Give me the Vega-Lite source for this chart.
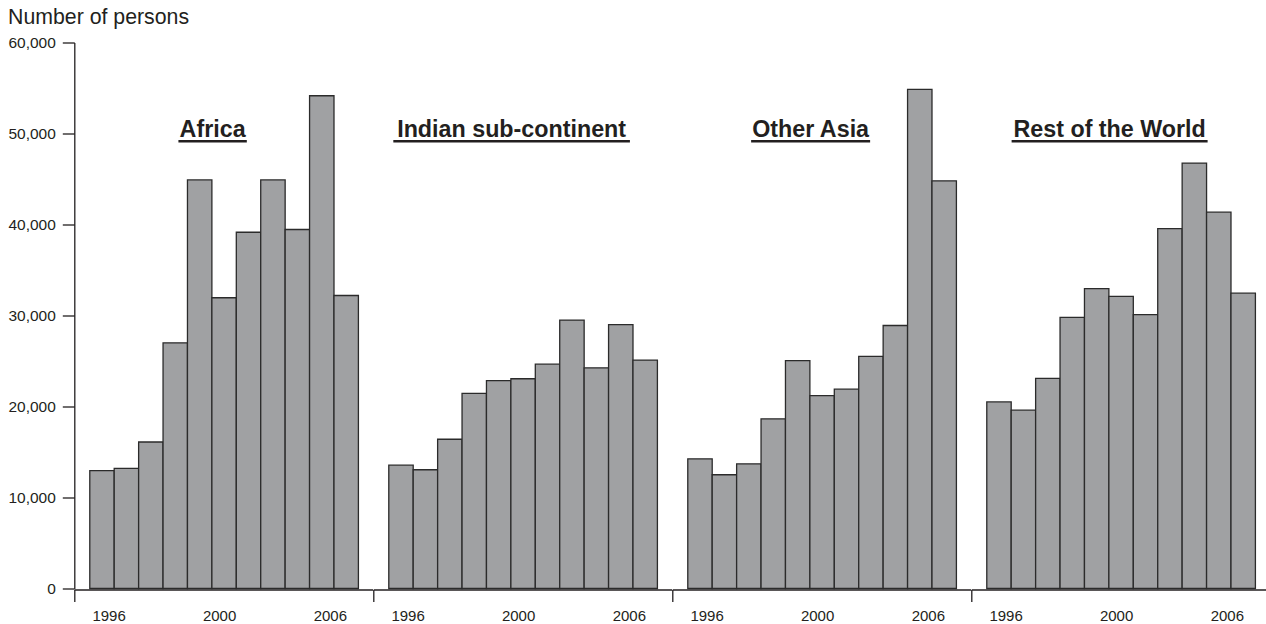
{
  "$schema": "https://vega.github.io/schema/vega-lite/v6.json",
  "padding": {"left": 7.3, "top": 5.5, "right": 0, "bottom": 5},
  "background": "white",
  "data": {"values": [
    {"region": "Africa", "year": 1996, "persons": 12950},
    {"region": "Africa", "year": 1997, "persons": 13200},
    {"region": "Africa", "year": 1998, "persons": 16100},
    {"region": "Africa", "year": 1999, "persons": 27000},
    {"region": "Africa", "year": 2000, "persons": 44900},
    {"region": "Africa", "year": 2001, "persons": 31950},
    {"region": "Africa", "year": 2002, "persons": 39150},
    {"region": "Africa", "year": 2003, "persons": 44900},
    {"region": "Africa", "year": 2004, "persons": 39450},
    {"region": "Africa", "year": 2005, "persons": 54150},
    {"region": "Africa", "year": 2006, "persons": 32200},
    {"region": "Indian sub-continent", "year": 1996, "persons": 13550},
    {"region": "Indian sub-continent", "year": 1997, "persons": 13050},
    {"region": "Indian sub-continent", "year": 1998, "persons": 16400},
    {"region": "Indian sub-continent", "year": 1999, "persons": 21450},
    {"region": "Indian sub-continent", "year": 2000, "persons": 22850},
    {"region": "Indian sub-continent", "year": 2001, "persons": 23050},
    {"region": "Indian sub-continent", "year": 2002, "persons": 24650},
    {"region": "Indian sub-continent", "year": 2003, "persons": 29500},
    {"region": "Indian sub-continent", "year": 2004, "persons": 24250},
    {"region": "Indian sub-continent", "year": 2005, "persons": 29000},
    {"region": "Indian sub-continent", "year": 2006, "persons": 25100},
    {"region": "Other Asia", "year": 1996, "persons": 14250},
    {"region": "Other Asia", "year": 1997, "persons": 12500},
    {"region": "Other Asia", "year": 1998, "persons": 13700},
    {"region": "Other Asia", "year": 1999, "persons": 18650},
    {"region": "Other Asia", "year": 2000, "persons": 25050},
    {"region": "Other Asia", "year": 2001, "persons": 21200},
    {"region": "Other Asia", "year": 2002, "persons": 21900},
    {"region": "Other Asia", "year": 2003, "persons": 25500},
    {"region": "Other Asia", "year": 2004, "persons": 28900},
    {"region": "Other Asia", "year": 2005, "persons": 54850},
    {"region": "Other Asia", "year": 2006, "persons": 44800},
    {"region": "Rest of the World", "year": 1996, "persons": 20500},
    {"region": "Rest of the World", "year": 1997, "persons": 19600},
    {"region": "Rest of the World", "year": 1998, "persons": 23100},
    {"region": "Rest of the World", "year": 1999, "persons": 29800},
    {"region": "Rest of the World", "year": 2000, "persons": 32950},
    {"region": "Rest of the World", "year": 2001, "persons": 32100},
    {"region": "Rest of the World", "year": 2002, "persons": 30100},
    {"region": "Rest of the World", "year": 2003, "persons": 39550},
    {"region": "Rest of the World", "year": 2004, "persons": 46750},
    {"region": "Rest of the World", "year": 2005, "persons": 41350},
    {"region": "Rest of the World", "year": 2006, "persons": 32450}
  ]},
  "facet": {
    "column": {
      "field": "region", "type": "nominal", "title": null,
      "sort": ["Africa", "Indian sub-continent", "Other Asia", "Rest of the World"],
      "header": {"labels": false, "title": null, "labelPadding": 0, "titlePadding": 0}
    }
  },
  "spacing": 0,
  "config": {"view": {"stroke": null}},
  "spec": {
    "width": 298.3,
    "height": 546,
    "layer": [
      {
        "mark": {"type": "bar", "width": 24.42, "fill": "#a0a1a3", "stroke": "#2b2b2b", "strokeWidth": 1.3},
        "encoding": {
          "x": {
            "field": "year", "type": "quantitative",
            "scale": {"domain": [1994.866, 2007.081], "nice": false, "zero": false, "padding": 0},
            "axis": {
              "values": [1994.866, 1996, 2000, 2006],
              "format": "d",
              "labelExpr": "datum.value < 1995 ? '' : datum.label",
              "tickOpacity": {"condition": {"test": "datum.value < 1995", "value": 1}, "value": 0},
              "labelOffset": {"condition": [{"test": "datum.value == 1996", "value": 6.6}, {"test": "datum.value == 2000", "value": 19.4}], "value": -16.4},
              "tickSize": 12, "tickWidth": 1.3, "tickColor": "#231f20",
              "domainColor": "#231f20", "domainWidth": 1.3,
              "labelFont": "Liberation Sans", "labelFontSize": 15, "labelColor": "#231f20",
              "labelPadding": 7, "labelFlush": false, "labelOverlap": false,
              "title": null, "grid": false
            }
          },
          "y": {
            "field": "persons", "type": "quantitative",
            "scale": {"domain": [0, 60000], "nice": false, "padding": 0},
            "axis": {
              "values": [0, 10000, 20000, 30000, 40000, 50000, 60000],
              "format": ",d",
              "tickSize": 12, "tickWidth": 1.3, "tickColor": "#231f20",
              "domainColor": "#231f20", "domainWidth": 1.3,
              "labelFont": "Liberation Sans", "labelFontSize": 15.5, "labelColor": "#231f20",
              "labelPadding": 7, "grid": false,
              "title": "Number of persons",
              "titleFont": "Liberation Sans", "titleFontSize": 21.3, "titleFontWeight": "normal", "titleColor": "#231f20",
              "titleAngle": 0, "titleAlign": "left", "titleBaseline": "alphabetic",
              "titleX": -66.7, "titleY": -19.5
            }
          }
        }
      },
      {
        "transform": [{"filter": "datum.year == 2000"}],
        "mark": {"type": "text", "font": "Liberation Sans", "fontWeight": "bold", "fontSize": 23.3, "align": "center", "baseline": "alphabetic", "color": "#231f20"},
        "encoding": {
          "x": {"datum": 2000.53},
          "y": {"datum": 49600},
          "text": {"field": "region"}
        }
      },
      {
        "transform": [{"filter": "datum.year == 2000"}],
        "mark": {
          "type": "rule", "strokeWidth": 2.3, "color": "#231f20",
          "xOffset": {"expr": "datum.region == 'Africa' ? -34.2 : datum.region == 'Indian sub-continent' ? -118.3 : datum.region == 'Other Asia' ? -59.5 : -98"},
          "x2Offset": {"expr": "datum.region == 'Africa' ? 34.2 : datum.region == 'Indian sub-continent' ? 118.3 : datum.region == 'Other Asia' ? 59.5 : 98"}
        },
        "encoding": {
          "x": {"datum": 2000.53},
          "x2": {"datum": 2000.53},
          "y": {"datum": 49150}
        }
      }
    ]
  }
}
